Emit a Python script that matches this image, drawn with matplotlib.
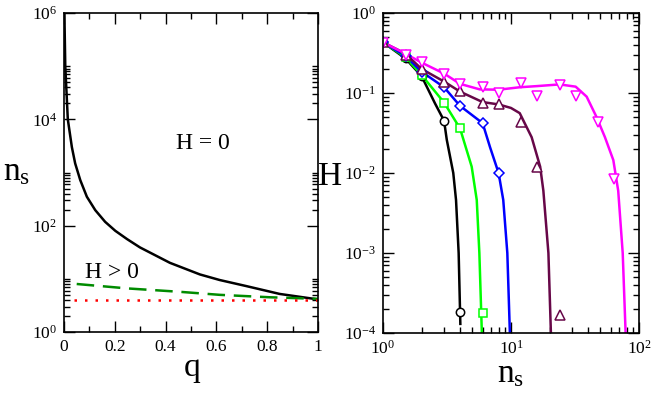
import numpy as np
import matplotlib
matplotlib.use("Agg")
import matplotlib.pyplot as plt
from matplotlib.ticker import FixedLocator, NullFormatter, LogFormatterSciNotation

plt.rcParams['font.family'] = ['Liberation Serif', 'DejaVu Serif']
plt.rcParams['mathtext.fontset'] = 'custom'
plt.rcParams['mathtext.rm'] = 'Liberation Serif'
plt.rcParams['mathtext.it'] = 'Liberation Serif:italic'

# --- left panel: n_s vs q ---
q_h0 = [0.0015, 0.005, 0.015, 0.031, 0.044, 0.064, 0.09, 0.123, 0.162, 0.202, 0.248,
        0.299, 0.417, 0.535, 0.613, 0.718, 0.849, 1.0]
ns_h0 = [1e6, 1e5, 1e4, 3e3, 1.48e3, 720, 350, 196, 118, 80, 56,
         39, 20, 12.1, 9.5, 7.3, 5.2, 4.1]
q_hpos = [0.05, 0.25, 0.456, 0.613, 0.81, 1.0]
ns_hpos = [8.0, 6.6, 5.7, 5.0, 4.5, 4.2]
q_red = [0.04, 1.0]
ns_red = [4.05, 4.05]
q_ticks = [0, 0.2, 0.4, 0.6, 0.8, 1.0]
q_ticklabels = ['0', '0.2', '0.4', '0.6', '0.8', '1']

# --- right panel: H vs n_s (lines) ---
line_black_x = [1, 1.5, 2, 2.55, 3, 3.15, 3.54, 3.72, 3.9, 4.02]
line_black_y = [0.43, 0.27, 0.163, 0.074, 0.045, 0.026, 0.01, 0.0046, 0.001, 0.00013]
line_green_x = [1, 1.5, 2, 3, 4, 4.93, 5.4, 5.66, 5.92]
line_green_y = [0.43, 0.28, 0.168, 0.076, 0.036, 0.012, 0.0046, 0.001, 0.0001]
line_blue_x = [1, 1.5, 2, 3, 4, 6, 6.86, 8, 8.7, 9.36, 9.8]
line_blue_y = [0.43, 0.29, 0.185, 0.118, 0.069, 0.042, 0.021, 0.01, 0.0046, 0.001, 0.0001]
line_maroon_x = [1, 1.5, 2, 3, 4, 6, 8, 10, 11.7, 14.5, 16.9, 17.9, 19.6, 20.5]
line_maroon_y = [0.43, 0.31, 0.2, 0.139, 0.104, 0.077, 0.072, 0.065, 0.056, 0.028,
                 0.012, 0.006, 0.001, 0.0001]
line_mag_x = [1, 1.5, 2, 3, 4, 5.7, 8, 11.7, 16, 24, 32, 39, 46.6, 54.2, 63, 68.8, 74.6, 78.6]
line_mag_y = [0.43, 0.31, 0.24, 0.175, 0.13, 0.111, 0.11, 0.118, 0.122, 0.128, 0.12,
              0.09, 0.05, 0.028, 0.0145, 0.006, 0.001, 0.0001]

# --- right panel: simulation points ---
pt_black_x = [1, 1.5, 2, 3, 4]
pt_black_y = [0.43, 0.27, 0.163, 0.045, 0.000185]
pt_green_x = [1, 1.5, 2, 3, 4, 6]
pt_green_y = [0.43, 0.28, 0.168, 0.076, 0.036, 0.00018]
pt_blue_x = [1, 1.5, 2, 3, 4, 6, 8]
pt_blue_y = [0.43, 0.29, 0.185, 0.118, 0.069, 0.042, 0.01]
pt_maroon_x = [1, 1.5, 2, 3, 4, 6, 8, 12, 16, 24]
pt_maroon_y = [0.43, 0.3, 0.2, 0.139, 0.105, 0.076, 0.073, 0.044, 0.012, 0.00017]
pt_mag_x = [1, 1.5, 2, 3, 4, 6, 8, 12, 16, 24, 32, 48, 64]
pt_mag_y = [0.425, 0.30, 0.242, 0.174, 0.13, 0.12, 0.099, 0.134, 0.092, 0.126,
            0.092, 0.043, 0.0085]

W, H = 654, 397
fig = plt.figure(figsize=(W / 100, H / 100), dpi=100)
ax1 = fig.add_axes([64 / W, 1 - 332 / H, 254 / W, 319 / H])
ax2 = fig.add_axes([383 / W, 1 - 333 / H, 256 / W, 320 / H])

for ax in (ax1, ax2):
    ax.tick_params(which='both', direction='in', top=True, right=True,
                   labelsize=12.5, width=1)
    ax.tick_params(which='major', length=8, pad=5)
    ax.tick_params(which='minor', length=4.5)
    for s in ax.spines.values():
        s.set_linewidth(1.2)

# left
ax1.plot(q_h0, ns_h0, color='black', lw=1.8)
ax1.plot(q_hpos, ns_hpos, color='#008b00', lw=1.8, dashes=(7, 3.5))
ax1.plot(q_red, ns_red, color='red', lw=1.8, dashes=(1, 3.2))
ax1.set_yscale('log')
ax1.set_xlim(0, 1)
ax1.set_ylim(1, 1e6)
ax1.set_xticks(q_ticks)
ax1.set_xticklabels(q_ticklabels)
ax1.xaxis.set_minor_locator(FixedLocator(np.arange(0.1, 1.0, 0.2)))
ax1.yaxis.set_major_locator(FixedLocator([1, 1e2, 1e4, 1e6]))
ax1.yaxis.set_major_formatter(LogFormatterSciNotation())
ymin = [k * 10.0 ** d for d in (0, 2, 4) for k in range(2, 11)]
ax1.yaxis.set_minor_locator(FixedLocator(ymin))
ax1.yaxis.set_minor_formatter(NullFormatter())
ax1.text(0.547, 0.592, 'H = 0', transform=ax1.transAxes, fontsize=17,
         ha='center', va='center')
ax1.text(0.19, 0.185, 'H > 0', transform=ax1.transAxes, fontsize=17,
         ha='center', va='center')

# right
lines = [(line_black_x, line_black_y, 'black'),
         (line_green_x, line_green_y, '#00ff00'),
         (line_blue_x, line_blue_y, '#0000ff'),
         (line_maroon_x, line_maroon_y, '#670748'),
         (line_mag_x, line_mag_y, '#ff00ff')]
for x, y, c in lines:
    ax2.plot(x, y, color=c, lw=1.8)
pts = [(pt_black_x, pt_black_y, 'black', 'o', 6),
       (pt_green_x, pt_green_y, '#00ff00', 's', 5.5),
       (pt_blue_x, pt_blue_y, '#0000ff', 'D', 5),
       (pt_maroon_x, pt_maroon_y, '#670748', '^', 7),
       (pt_mag_x, pt_mag_y, '#ff00ff', 'v', 7)]
for x, y, c, m, ms in pts:
    ax2.plot(x, y, ls='none', marker=m, ms=ms, mfc='white', mec=c, mew=1.1)
ax2.set_xscale('log')
ax2.set_yscale('log')
ax2.set_xlim(1, 100)
ax2.set_ylim(1e-4, 1)

fig.text(3 / W, 1 - 172 / H, r'$\mathrm{n_s}$', fontsize=24, ha='left', va='center')
fig.text(192 / W, 1 - 368 / H, 'q', fontsize=24, ha='center', va='center')
fig.text(330 / W, 1 - 177 / H, 'H', fontsize=24, ha='center', va='center')
fig.text(511 / W, 1 - 374 / H, r'$\mathrm{n_s}$', fontsize=24, ha='center', va='center')

fig.savefig('out.png', dpi=100)
